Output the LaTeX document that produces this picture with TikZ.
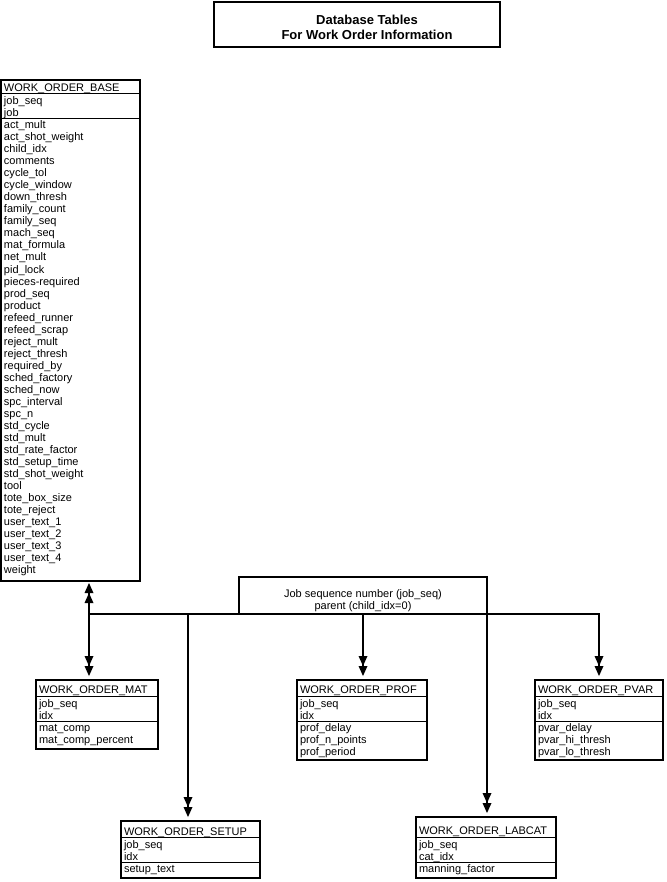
\documentclass[tikz,border=0pt]{standalone}
\usepackage{fontspec}
\setmainfont{Liberation Sans}
\usetikzlibrary{arrows.meta}
\tikzset{
  every node/.style={font=\fontsize{11}{12}\selectfont},
  tbl/.style={draw, line width=2pt, anchor=north west, outer sep=0pt, inner sep=0pt},
  fld/.style={anchor=base west, inner sep=0pt, outer sep=0pt},
  ctext/.style={anchor=base, inner sep=0pt, outer sep=0pt},
  ttl/.style={anchor=base, inner sep=0pt, outer sep=0pt, font=\bfseries\fontsize{13}{15}\selectfont},
  sepline/.style={line width=1pt},
  conn/.style={line width=2pt},
  dbl/.tip={Triangle[width=9pt,length=10pt,sep=0pt,line width=0pt]Triangle[width=9pt,length=10pt,sep=0pt,line width=0pt]},
  arr/.style={conn, -dbl, shorten >=4pt},
}
\newcommand\dbrows[4]{%
  \foreach \fname [count=\i from 0] in {#4} {\node[fld] (#1\i) at (#2, {#3+12*\i}) {\fname};}}
\begin{document}
\begin{tikzpicture}[x=1pt,y=-1pt]
\useasboundingbox (0,0) rectangle (666,882);
% title
\node[tbl, minimum width=286pt, minimum height=45pt] (title) at (214,2) {};
\node[ttl] (t1) at (367,25) {Database Tables};
\node[ttl] (t2) at (367,40) {For Work Order Information};
% WORK_ORDER_BASE
\node[tbl, minimum width=139pt, minimum height=501pt] (base) at (1,80) {};
\node[fld] (baseh) at (4,92) {WORK\_ORDER\_BASE};
\draw[sepline] (base.west |- 0,94) -- (base.east |- 0,94);
\dbrows{basek}{4}{105}{job\_seq, job}
\draw[sepline] (base.west |- 0,119) -- (base.east |- 0,119);
\dbrows{basef}{4}{129}{act\_mult, act\_shot\_weight, child\_idx, comments, cycle\_tol, cycle\_window, down\_thresh, family\_count, family\_seq, mach\_seq, mat\_formula, net\_mult, pid\_lock, pieces-required, prod\_seq, product, refeed\_runner, refeed\_scrap, reject\_mult, reject\_thresh, required\_by, sched\_factory, sched\_now, spc\_interval, spc\_n, std\_cycle, std\_mult, std\_rate\_factor, std\_setup\_time, std\_shot\_weight, tool, tote\_box\_size, tote\_reject, user\_text\_1, user\_text\_2, user\_text\_3, user\_text\_4, weight}
% WORK_ORDER_MAT
\node[tbl, minimum width=122pt, minimum height=69pt] (mat) at (36,680) {};
\node[fld] (math) at (39,693) {WORK\_ORDER\_MAT};
\draw[sepline] (mat.west |- 0,696) -- (mat.east |- 0,696);
\dbrows{matk}{39}{707}{job\_seq, idx}
\draw[sepline] (mat.west |- 0,721) -- (mat.east |- 0,721);
\dbrows{matf}{39}{731}{mat\_comp, mat\_comp\_percent}
% WORK_ORDER_PROF
\node[tbl, minimum width=130pt, minimum height=80pt] (prof) at (297,680) {};
\node[fld] (profh) at (300,693) {WORK\_ORDER\_PROF};
\draw[sepline] (prof.west |- 0,696) -- (prof.east |- 0,696);
\dbrows{profk}{300}{707}{job\_seq, idx}
\draw[sepline] (prof.west |- 0,721) -- (prof.east |- 0,721);
\dbrows{proff}{300}{731}{prof\_delay, prof\_n\_points, prof\_period}
% WORK_ORDER_PVAR
\node[tbl, minimum width=128pt, minimum height=80pt] (pvar) at (535,680) {};
\node[fld] (pvarh) at (538,693) {WORK\_ORDER\_PVAR};
\draw[sepline] (pvar.west |- 0,696) -- (pvar.east |- 0,696);
\dbrows{pvark}{538}{707}{job\_seq, idx}
\draw[sepline] (pvar.west |- 0,721) -- (pvar.east |- 0,721);
\dbrows{pvarf}{538}{731}{pvar\_delay, pvar\_hi\_thresh, pvar\_lo\_thresh}
% WORK_ORDER_SETUP
\node[tbl, minimum width=139pt, minimum height=57pt] (setup) at (121,821) {};
\node[fld] (setuph) at (124,835) {WORK\_ORDER\_SETUP};
\draw[sepline] (setup.west |- 0,837) -- (setup.east |- 0,837);
\dbrows{setupk}{124}{848}{job\_seq, idx}
\draw[sepline] (setup.west |- 0,862) -- (setup.east |- 0,862);
\dbrows{setupf}{124}{872}{setup\_text}
% WORK_ORDER_LABCAT
\node[tbl, minimum width=140pt, minimum height=61pt] (labcat) at (416,817) {};
\node[fld] (labcath) at (419,834) {WORK\_ORDER\_LABCAT};
\draw[sepline] (labcat.west |- 0,837) -- (labcat.east |- 0,837);
\dbrows{labcatk}{419}{848}{job\_seq, cat\_idx}
\draw[sepline] (labcat.west |- 0,862) -- (labcat.east |- 0,862);
\dbrows{labcatf}{419}{872}{manning\_factor}
% junction box
\node[tbl, minimum width=248pt, minimum height=37pt] (jn) at (239,577) {};
\node[ctext] (jn1) at (363,597) {Job sequence number (job\_seq)};
\node[ctext] (jn2) at (363,609) {parent (child\_idx=0)};
% connectors
\coordinate (busL) at (89,614);
\coordinate (busR) at (599,614);
\coordinate (bSet) at (188,614);
\draw[conn, dbl-dbl, shorten <=2pt, shorten >=4pt] (base.south -| busL) -- (mat.north -| busL);
\draw[arr] (busL) -- (busR) -- (pvar.north -| busR);
\draw[arr] (bSet) -- (setup.north -| bSet);
\draw[arr] (jn.south) -- (prof.north -| jn.south);
\draw[arr] (jn.south east) -- (labcat.north -| jn.south east);
\end{tikzpicture}
\end{document}
